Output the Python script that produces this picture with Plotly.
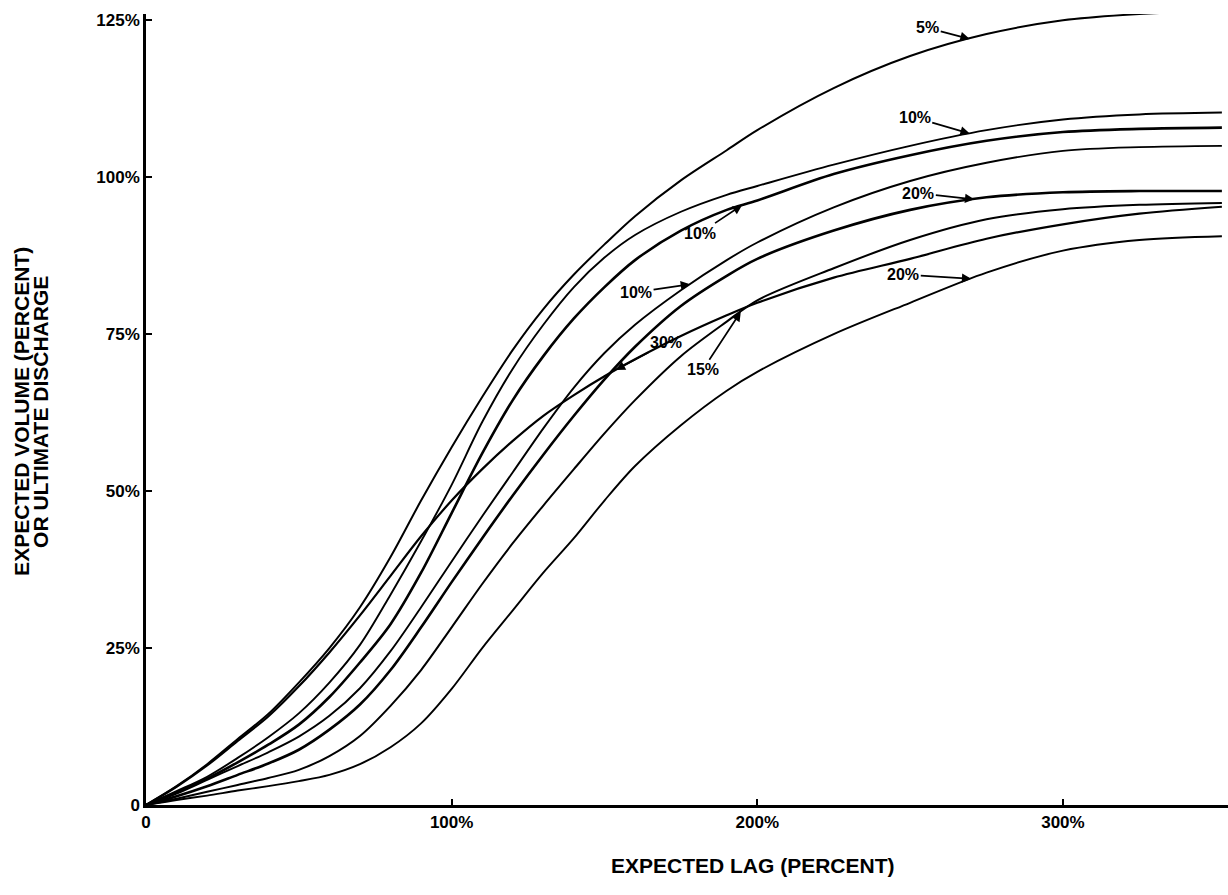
import numpy as np
import plotly.graph_objects as go

# Expected lag (percent) grid shared by all curves
LAG = [0, 10, 20, 30, 40, 50, 60, 70, 80, 90, 100, 110, 120, 130, 140, 150,
       160, 175, 190, 200, 225, 250, 275, 300, 325, 352]

# Expected volume (percent of ultimate discharge) for each curve
CV05 = [0, 3, 6.5, 10.5, 14.5, 19.5, 25, 31.5, 39.5, 48.5, 57, 65, 72.5,
        79, 84.5, 89.3, 93.8, 99.5, 104.3, 107.5, 114.2, 119.3, 122.8, 125,
        126, 126.5]
CV30 = [0, 2.9, 6.3, 10.2, 14.1, 18.9, 24.3, 30.2, 36.5, 42.8, 48.5, 53.5,
        58, 62, 65.3, 68.3, 71, 74.7, 78, 80, 84, 87, 90.2, 92.5, 94.2, 95.3]
CV10A = [0, 2.2, 4.5, 7.5, 10.8, 14.6, 19.5, 25.5, 33.5, 42, 51, 61, 69.5,
         76.5, 82.5, 87.2, 90.8, 94.5, 97.2, 98.6, 102, 105, 107.5, 109.2,
         110, 110.3]
CV10B = [0, 2, 4.2, 6.8, 9.6, 12.8, 17.2, 22.7, 28.8, 37, 46.5, 56, 64.5,
         71.5, 77.5, 82.5, 86.8, 91.5, 94.8, 96.3, 100.5, 103.5, 105.8, 107.2,
         107.7, 107.9]
CV10C = [0, 1.8, 4, 6.2, 8.4, 10.9, 14.2, 18.6, 24.5, 31.5, 38.8, 46, 53, 60,
         66.5, 72, 76.5, 82, 86.8, 89.6, 95.2, 99.4, 102.3, 104.2, 104.8, 105]
CV20A = [0, 1.4, 3, 4.8, 6.6, 8.8, 12, 16, 21.5, 28.3, 35.5, 42.5, 49.3, 55.8,
         62, 67.8, 73, 79.5, 84.3, 87, 91.5, 94.8, 96.8, 97.6, 97.8, 97.8]
CV15 = [0, 1, 2.1, 3.2, 4.3, 5.6, 7.8, 11, 15.8, 21.5, 28.3, 35.2, 41.7, 47.7,
        53.5, 59.2, 64.5, 71.5, 77, 80.4, 85.5, 90, 93.3, 94.9, 95.6, 95.9]
CV20B = [0, 0.8, 1.5, 2.3, 3, 3.8, 4.8, 6.5, 9.2, 13, 18.5, 25, 31, 37, 42.5,
         48.5, 54, 60.5, 66, 69, 75, 80, 84.8, 88.3, 90, 90.6]

SERIES = [
    ("5%", CV05, 2.0),
    ("30%", CV30, 2.2),
    ("10% (a)", CV10A, 1.9),
    ("10% (b)", CV10B, 2.6),
    ("10% (c)", CV10C, 1.9),
    ("20% (a)", CV20A, 2.6),
    ("15%", CV15, 2.0),
    ("20% (b)", CV20B, 1.9),
]

# Curve labels: (text, series values, lag where arrow touches, text offset px)
LABELS = [
    ("5%", CV05, 269.5, -42, -11),
    ("10%", CV10A, 269.5, -55, -16),
    ("20%", CV20A, 271, -56, -6),
    ("20%", CV20B, 270, -68, -4),
    ("10%", CV10B, 195, -42, 28),
    ("10%", CV10C, 178, -54, 8),
    ("30%", CV30, 153.7, 50, -27),
    ("15%", CV15, 194.6, -38, 58),
]

X_TICKS = [0, 100, 200, 300]
X_TICKTEXT = ["0", "100%", "200%", "300%"]
Y_TICKS = [0, 25, 50, 75, 100, 125]
Y_TICKTEXT = ["0", "25%", "50%", "75%", "100%", "125%"]

FONT = "Liberation Sans, Arial, sans-serif"

fig = go.Figure()
for name, vals, w in SERIES:
    fig.add_trace(go.Scatter(
        x=LAG, y=vals, mode="lines", name=name,
        line=dict(color="black", width=w, shape="spline", smoothing=0.9),
        showlegend=False, hoverinfo="skip"))

for text, vals, lx, ax, ay in LABELS:
    ly = float(np.interp(lx, LAG, vals))
    fig.add_annotation(
        x=lx, y=ly, xref="x", yref="y", text=text, showarrow=True,
        ax=ax, ay=ay, arrowhead=2, arrowsize=1.1, arrowwidth=1.7,
        arrowcolor="black", standoff=0,
        font=dict(family=FONT, size=16, color="black", weight="bold"))

fig.add_annotation(
    text="EXPECTED LAG (PERCENT)", xref="paper", yref="paper",
    x=0.561, y=-0.077, xanchor="center", yanchor="middle", showarrow=False,
    font=dict(family=FONT, size=21, color="black", weight="bold"))
fig.add_annotation(
    text="EXPECTED VOLUME (PERCENT)",
    xref="paper", yref="paper", x=-0.1146, y=0.497,
    xanchor="center", yanchor="middle", showarrow=False,
    textangle=-90,
    font=dict(family=FONT, size=21, color="black", weight="bold"))
fig.add_annotation(
    text="OR ULTIMATE DISCHARGE",
    xref="paper", yref="paper", x=-0.097, y=0.497,
    xanchor="center", yanchor="middle", showarrow=False,
    textangle=-90,
    font=dict(family=FONT, size=21, color="black", weight="bold"))

fig.update_xaxes(
    range=[0, 354], showline=True, linecolor="black", linewidth=2.5,
    ticks="inside", ticklen=6, tickwidth=2, tickcolor="black",
    tickvals=X_TICKS, ticktext=X_TICKTEXT, showgrid=False, zeroline=False,
    tickfont=dict(family=FONT, size=17, color="black", weight="bold"))
fig.update_yaxes(
    range=[0, 126], showline=True, linecolor="black", linewidth=2.5,
    ticks="inside", ticklen=6, tickwidth=2, tickcolor="black",
    tickvals=Y_TICKS, ticktext=Y_TICKTEXT, showgrid=False, zeroline=False,
    tickfont=dict(family=FONT, size=17, color="black", weight="bold"))

fig.update_layout(
    width=1228, height=895,
    margin=dict(l=146, r=0, t=14, b=90),
    paper_bgcolor="white", plot_bgcolor="white",
)

fig.write_html("out.html")
